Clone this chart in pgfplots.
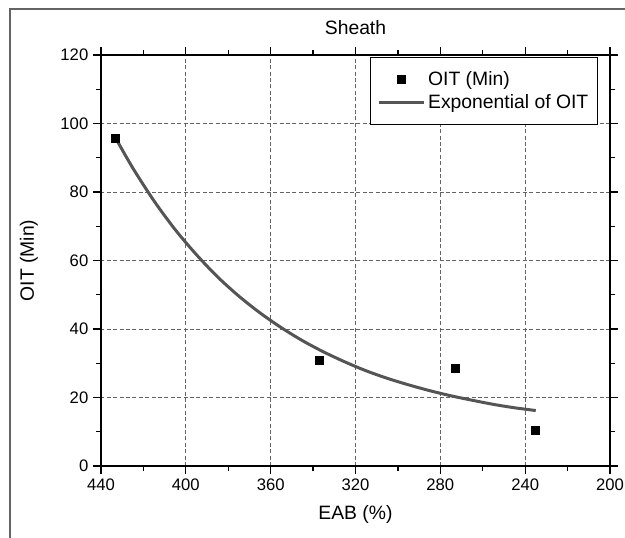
\documentclass[border=0pt]{standalone}
\usepackage{pgfplots}
\pgfplotsset{compat=1.18}
\usepackage{fontspec}
\setmainfont{Liberation Sans}
\definecolor{curvegray}{RGB}{85,85,85}
\definecolor{gridgray}{RGB}{100,100,100}
\definecolor{framegray}{RGB}{100,100,100}
\pgfplotsset{
  marklegend/.style={legend image code/.code={\draw[##1] plot coordinates {(16.9pt,0pt)};}},
  linelegend/.style={legend image code/.code={\draw[##1] (0pt,0pt) -- (33.75pt,0pt);}},
}
\begin{document}
\begin{tikzpicture}
\useasboundingbox (0,0) rectangle (468.75pt,402.75pt);
\draw[framegray, line width=1.3pt] (7.5pt,-10pt) -- (7.5pt,396pt) -- (480pt,396pt);
\begin{axis}[
  at={(75.75pt,53.25pt)}, anchor=south west,
  scale only axis, width=381.75pt, height=308.25pt,
  xmin=200, xmax=440, x dir=reverse,
  ymin=0, ymax=120,
  xtick={200,240,...,440}, ytick={0,20,...,120},
  minor x tick num=1, minor y tick num=1,
  xtick pos=both, ytick pos=both,
  xticklabel pos=lower, yticklabel pos=left,
  tick align=outside,
  major tick length=6pt, minor tick length=3.4pt,
  every tick/.style={black, line width=0.9pt},
  axis line style={line width=1.1pt},
  grid=major,
  major grid style={gridgray, line width=0.7pt, dash pattern=on 3pt off 1.8pt},
  /pgf/number format/assume math mode=true,
  tick label style={font=\fontsize{12.5}{14}\selectfont},
  xlabel={EAB (\%)}, ylabel={OIT (Min)},
  label style={font=\fontsize{14.5}{17}\selectfont},
  xlabel style={at={(axis description cs:0.5,-0.119)}, anchor=center},
  ylabel style={at={(axis description cs:-0.1415,0.5)}, anchor=center, rotate=0},
  title={Sheath},
  title style={at={(axis description cs:0.5,1.047)}, anchor=center, font=\fontsize{14.5}{17}\selectfont},
  legend style={at={(axis description cs:1,1)}, anchor=north east, xshift=-9pt, yshift=-1.5pt,
    draw=black, line width=0.6pt, fill=white, font=\fontsize{14.5}{17}\selectfont,
    inner xsep=5pt, inner ysep=8.5pt, row sep=1.5pt},
  legend cell align=left,
]
\addplot[only marks, mark=square*, mark size=3pt, black, marklegend]
  coordinates {(433.3,95.7) (337.1,30.8) (273.1,28.4) (235.3,10.5)};
\addlegendentry{OIT (Min)}
\addplot[curvegray, line width=2.25pt, smooth, no marks, linelegend]
  coordinates {(432.6,95.2) (425,87.0) (415,77.4) (405,69.0) (395,61.7) (385,55.2) (375,49.6) (365,44.7) (355,40.4) (345,36.6) (335,33.3) (325,30.4) (315,27.8) (305,25.6) (295,23.7) (285,22.0) (275,20.5) (265,19.2) (255,18.0) (245,17.0) (235,16.2)};
\addlegendentry{Exponential of OIT}
\end{axis}
\end{tikzpicture}
\end{document}
